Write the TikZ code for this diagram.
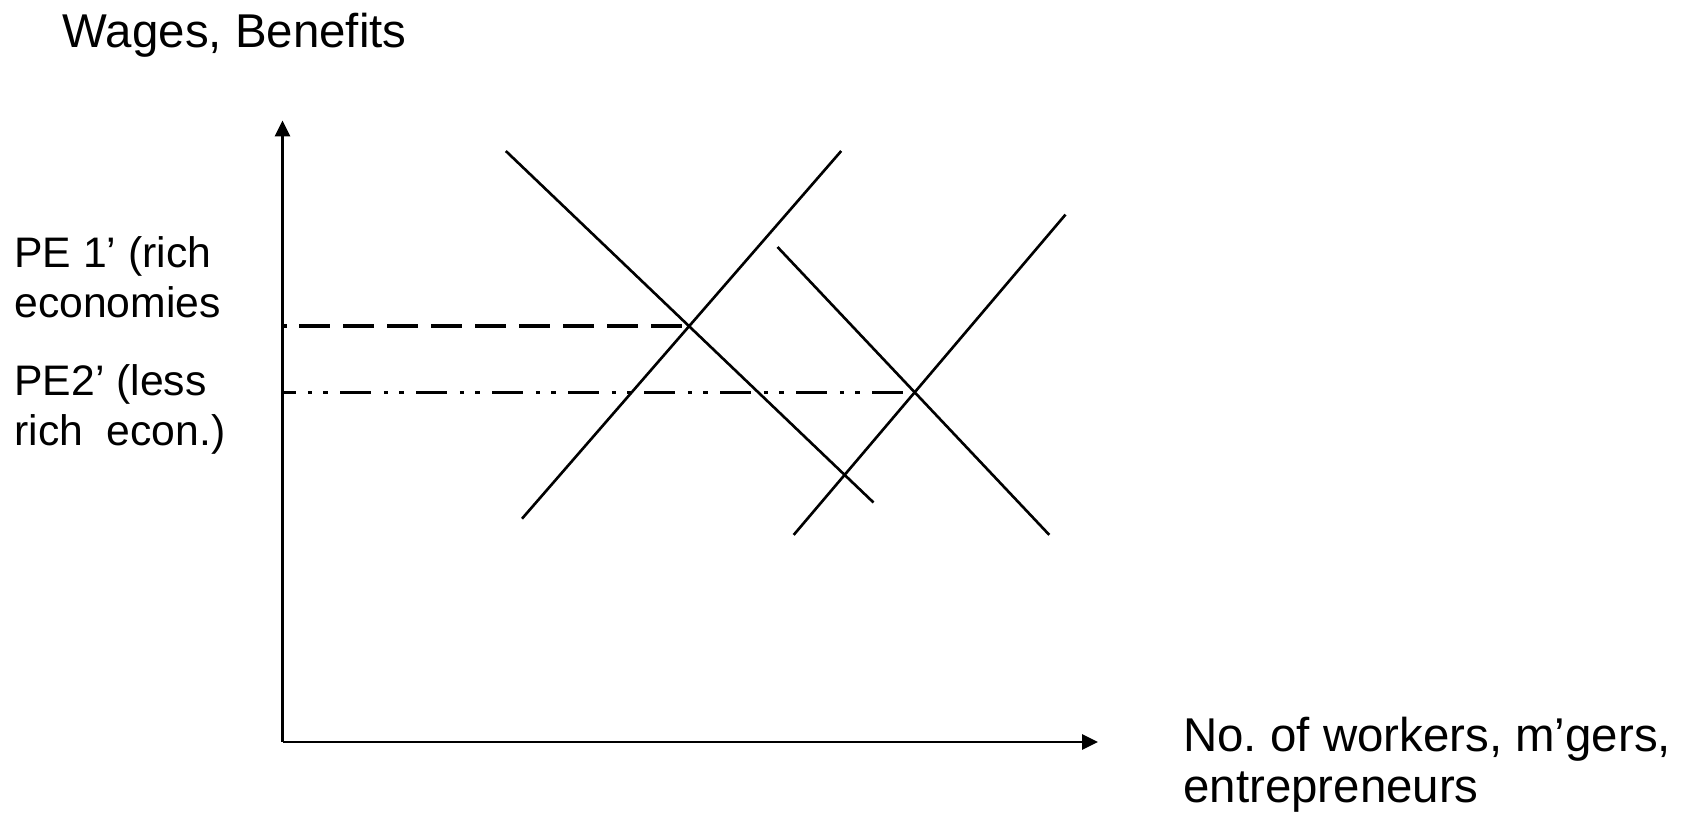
\documentclass[tikz,border=0pt]{standalone}
\usepackage{fontspec}
\setmainfont{Liberation Sans}
\frenchspacing
\usetikzlibrary{arrows.meta}

\tikzset{
  curve/.style={line width=1.5pt},
  axis/.style={line width=1.5pt,-{Triangle[length=0.32cm,width=0.3cm]}},
  richlevel/.style={line width=2pt,dash pattern=on 0.62cm off 0.26cm,dash phase=0.54cm},
  lesslevel/.style={line width=2pt,dash pattern=on 0.62cm off 0.25cm on 0.09cm off 0.22cm on 0.09cm off 0.25cm,dash phase=0.36cm},
  lbl/.style={inner sep=0pt,anchor=base west,align=left,font=\fontsize{27}{29}\selectfont},
  sidelbl/.style={lbl,font=\fontsize{24.3}{29}\selectfont}
}

\begin{document}
\begin{tikzpicture}[x=0.02cm,y=-0.02cm]

    % page frame
    \useasboundingbox (0,0) rectangle (1691,817);

    % end points of the curves
    \coordinate (d1s) at (505.8,151);
    \coordinate (d1e) at (873.5,502.5);
    \coordinate (s1s) at (522,518.7);
    \coordinate (s1e) at (841.2,151);
    \coordinate (d2s) at (777.5,247);
    \coordinate (d2e) at (1049.3,534.9);
    \coordinate (s2s) at (793.7,534.9);
    \coordinate (s2e) at (1065.5,214.6);

    % draw axes
    \coordinate (origin) at (282.5,742);
    \coordinate (ytop) at (282.5,120.5);
    \coordinate (xend) at (1098,742);
    \draw [axis] (origin) -- (ytop);
    \draw [axis] (origin) -- (xend);

    % supply and demand lines
    \foreach \a/\b in {d1s/d1e, s1s/s1e, d2s/d2e, s2s/s2e} {
      \draw [curve] (\a) -- (\b);
    }

    % equilibrium levels
    \coordinate (pe1) at (intersection of d1s--d1e and s1s--s1e);
    \coordinate (pe2) at (intersection of d2s--d2e and s2s--s2e);
    \draw [richlevel] (origin |- pe1) -- (pe1);
    \draw [lesslevel] (origin |- pe2) -- (pe2);

    % labels (base = last line)
    \node [lbl] (ylabel) at (62.5,48) {Wages, Benefits};
    \node [sidelbl] (pe1lbl) at (14,318) {PE 1’ (rich\\economies};
    \node [sidelbl] (pe2lbl) at (14,446) {PE2’ (less\\rich\ \ econ.)};
    \node [lbl] (xlabel) at (1183,802) {No. of workers, m’gers,\\entrepreneurs};

\end{tikzpicture}
\end{document}
